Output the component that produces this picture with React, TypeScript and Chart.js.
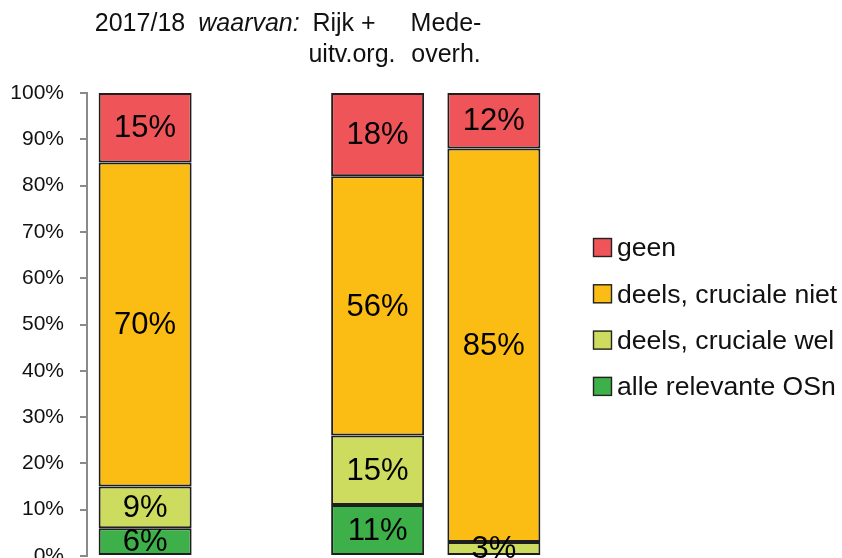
import React, { useEffect, useRef } from "react";
import { Chart, registerables } from "chart.js";

Chart.register(...registerables);

const CATEGORIES = ["2017/18", "waarvan:", "Rijk + uitv.org.", "Mede-overh."];
const HEADER_LINE1 = ["2017/18", "waarvan:", "Rijk +", "Mede-"];
const HEADER_LINE2 = ["", "", "uitv.org.", "overh."];
const SERIES_NAMES = ["alle relevante OSn", "deels, cruciale wel", "deels, cruciale niet", "geen"];
const ALLE = [6, null, 11, 0];
const DEELS_WEL = [9, null, 15, 3];
const DEELS_NIET = [70, null, 56, 85];
const GEEN = [15, null, 18, 12];
const Y_TICKS = [0, 10, 20, 30, 40, 50, 60, 70, 80, 90, 100];

const COLORS = ["#3DB04A", "#CDDC5E", "#FBBD14", "#EF5459"];
const FONT = "'Liberation Sans', Arial, sans-serif";

const labelPlugin = {
  id: "valueLabels",
  afterDatasetsDraw(chart: any) {
    const ctx = chart.ctx;
    ctx.save();
    ctx.font = `31px ${FONT}`;
    ctx.fillStyle = "#000";
    ctx.textAlign = "center";
    ctx.textBaseline = "middle";
    chart.data.datasets.forEach((ds: any, i: number) => {
      const meta = chart.getDatasetMeta(i);
      meta.data.forEach((el: any, j: number) => {
        const v = ds.data[j];
        if (v === null || v === 0) return;
        ctx.fillText(`${v}%`, el.x, (el.y + el.base) / 2 + 1);
      });
    });
    ctx.restore();
  },
};

const headerPlugin = {
  id: "headerLegend",
  afterDraw(chart: any) {
    const ctx = chart.ctx;
    const area = chart.chartArea;
    ctx.save();
    // header
    const xs = [140, 249, 344, 446];
    const xs2 = [140, 249, 352, 446];
    ctx.fillStyle = "#111";
    ctx.textAlign = "center";
    ctx.textBaseline = "alphabetic";
    HEADER_LINE1.forEach((t, i) => {
      ctx.font = i === 1 ? `italic 25px ${FONT}` : `25px ${FONT}`;
      ctx.fillText(t, xs[i], 31);
    });
    ctx.font = `25px ${FONT}`;
    HEADER_LINE2.forEach((t, i) => {
      if (t) ctx.fillText(t, xs2[i], 62);
    });
    // legend
    const rows = [3, 2, 1, 0];
    const bx = area.right + 41;
    const y0 = 248;
    ctx.font = `26.6px ${FONT}`;
    ctx.textAlign = "left";
    ctx.textBaseline = "middle";
    rows.forEach((di, k) => {
      const y = y0 + k * 46.3;
      ctx.fillStyle = COLORS[di];
      ctx.fillRect(bx, y - 10, 19, 19);
      ctx.strokeStyle = "#222";
      ctx.lineWidth = 1.4;
      ctx.strokeRect(bx + 0.5, y - 9.5, 18, 18);
      ctx.fillStyle = "#111";
      ctx.fillText(chart.data.datasets[di].label, bx + 24, y + 1);
    });
    ctx.restore();
  },
};

export default function App() {
  const ref = useRef<HTMLCanvasElement>(null);
  useEffect(() => {
    if (!ref.current) return;
    const seriesData = [ALLE, DEELS_WEL, DEELS_NIET, GEEN];
    const chart = new Chart(ref.current, {
      type: "bar",
      data: {
        labels: CATEGORIES,
        datasets: seriesData.map((d, i) => ({
          label: SERIES_NAMES[i],
          data: d,
          backgroundColor: COLORS[i],
          borderColor: "#1e1e1e",
          borderWidth: 2,
          borderSkipped: false,
          barPercentage: 0.8,
          categoryPercentage: 1,
        })),
      },
      options: {
        animation: false,
        responsive: false,
        devicePixelRatio: 1,
        layout: { padding: { top: 93, bottom: 2, left: 0, right: 290 } },
        plugins: { legend: { display: false }, tooltip: { enabled: false } },
        scales: {
          x: { stacked: true, display: false },
          y: {
            stacked: true,
            min: 0,
            max: 100,
            afterBuildTicks: (scale: any) => {
              scale.ticks = Y_TICKS.map((v) => ({ value: v }));
            },
            afterFit: (scale: any) => {
              scale.width = 87;
              scale.paddingTop = 0;
              scale.paddingBottom = 0;
            },
            ticks: {
              callback: (v: any) => `${v}%`,
              font: { family: FONT, size: 21 },
              color: "#111",
              padding: 16,
            },
            grid: {
              drawOnChartArea: false,
              drawTicks: true,
              tickLength: 7,
              color: "#8a8a8a",
              lineWidth: 2,
            },
            border: { display: true, color: "#8a8a8a", width: 2 },
          },
        },
      },
      plugins: [labelPlugin, headerPlugin],
    });
    return () => chart.destroy();
  }, []);
  return (
    <canvas
      ref={ref}
      width={842}
      height={558}
      style={{ position: "fixed", left: 0, top: 0, width: 842, height: 558 }}
    />
  );
}
